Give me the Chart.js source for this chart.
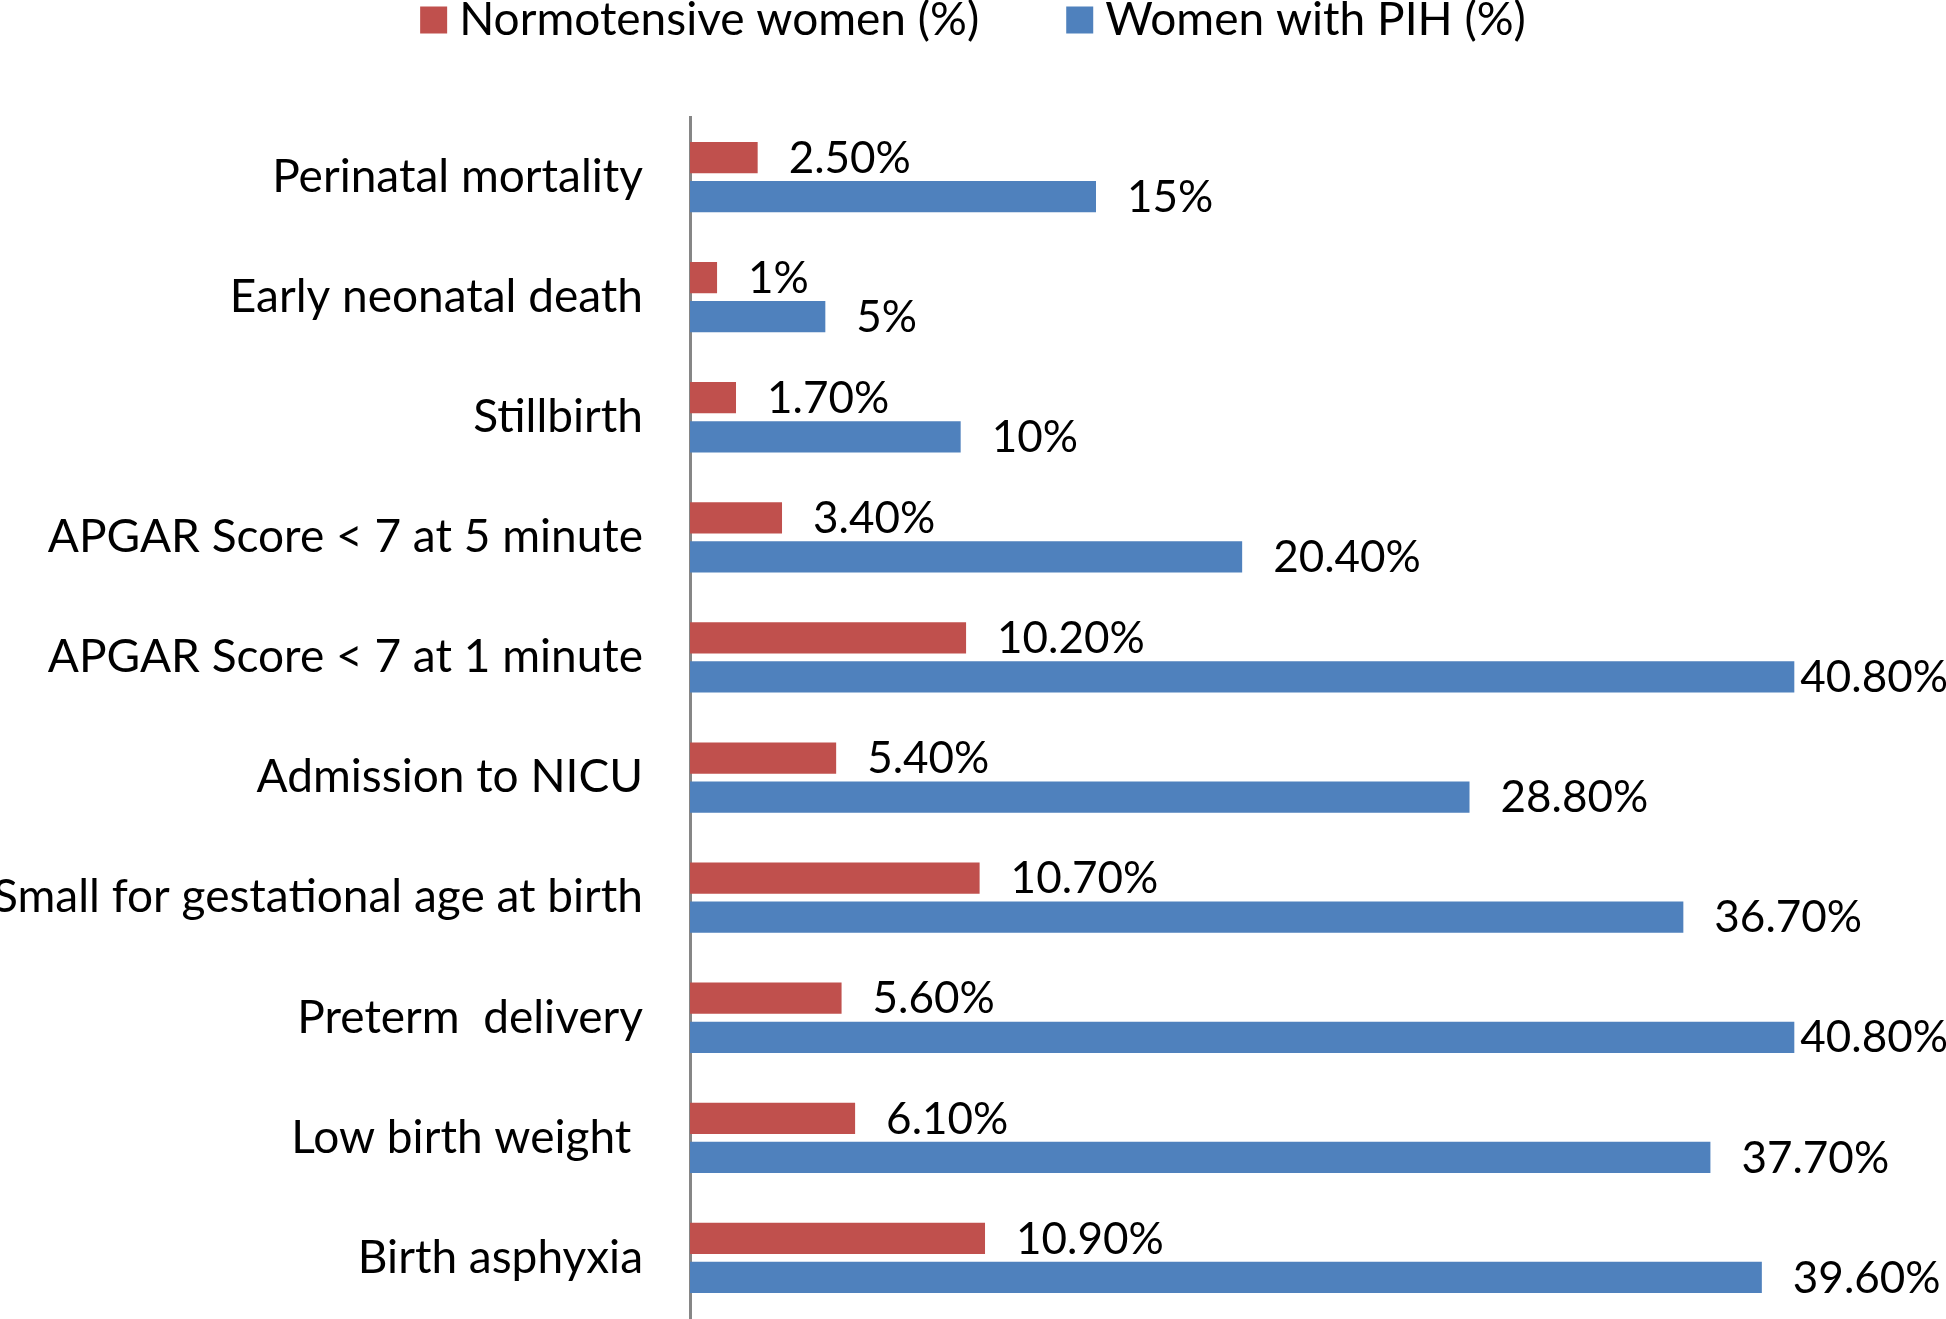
<!DOCTYPE html>
<html>
<head>
<meta charset="utf-8">
<script src="https://cdn.jsdelivr.net/npm/chart.js@4.4.1/dist/chart.umd.min.js"></script>
<style>
  html, body { margin: 0; padding: 0; background: #fff; }
  canvas { display: block; }
</style>
</head>
<body>
<canvas id="grafica" width="1946" height="1319"></canvas>
<script>
// datos
const categorias = [
  'Perinatal mortality',
  'Early neonatal death',
  'Stillbirth',
  'APGAR Score < 7 at 5 minute',
  'APGAR Score < 7 at 1 minute',
  'Admission to NICU',
  'Small for gestational age at birth',
  'Preterm  delivery',
  'Low birth weight ',
  'Birth asphyxia'
];
const normotensas = [2.5, 1, 1.7, 3.4, 10.2, 5.4, 10.7, 5.6, 6.1, 10.9];
const conPIH = [15, 5, 10, 20.4, 40.8, 28.8, 36.7, 40.8, 37.7, 39.6];
const etiquetasNormo = ['2.50%', '1%', '1.70%', '3.40%', '10.20%', '5.40%', '10.70%', '5.60%', '6.10%', '10.90%'];
const etiquetasPIH = ['15%', '5%', '10%', '20.40%', '40.80%', '28.80%', '36.70%', '40.80%', '37.70%', '39.60%'];

const FUENTE = 'Lato, "Open Sans", sans-serif';

// etiquetas de valor al final de cada barra
const etiquetasBarras = {
  id: 'etiquetasBarras',
  afterDatasetsDraw(chart) {
    const ctx = chart.ctx;
    ctx.save();
    ctx.font = `44px ${FUENTE}`;
    ctx.fillStyle = '#000';
    ctx.textBaseline = 'middle';
    ctx.textAlign = 'left';
    chart.data.datasets.forEach((ds, i) => {
      const meta = chart.getDatasetMeta(i);
      meta.data.forEach((bar, j) => {
        const txt = ds.etiquetas[j];
        const w = ctx.measureText(txt).width;
        let x = bar.x + 31;
        if (x + w > chart.width - 2) x = Math.max(bar.x + 6, chart.width - 2 - w);
        ctx.fillText(txt, x, bar.y + 1);
      });
    });
    ctx.restore();
  }
};

// leyenda arriba, dibujada a mano
const leyenda = {
  id: 'leyenda',
  afterDraw(chart) {
    const ctx = chart.ctx;
    ctx.save();
    ctx.font = `46px ${FUENTE}`;
    ctx.textBaseline = 'middle';
    const caja = 27, sep = 12, entre = 87;
    const items = chart.data.datasets.map(ds => ({
      texto: ds.label, color: ds.backgroundColor, w: ctx.measureText(ds.label).width
    }));
    const total = items.reduce((s, it) => s + caja + sep + it.w, 0) + entre * (items.length - 1);
    let x = (chart.width - total) / 2;
    const y = 20;
    items.forEach(it => {
      ctx.fillStyle = it.color;
      ctx.fillRect(x, y - caja / 2, caja, caja);
      x += caja + sep;
      ctx.fillStyle = '#000';
      ctx.fillText(it.texto, x, y);
      x += it.w + entre;
    });
    ctx.restore();
  }
};

new Chart(document.getElementById('grafica').getContext('2d'), {
  type: 'bar',
  data: {
    labels: categorias,
    datasets: [
      {
        label: 'Normotensive women (%)',
        data: normotensas,
        etiquetas: etiquetasNormo,
        backgroundColor: '#C0504D',
        categoryPercentage: 0.65,
        barPercentage: 0.8
      },
      {
        label: 'Women with PIH (%)',
        data: conPIH,
        etiquetas: etiquetasPIH,
        backgroundColor: '#4F81BD',
        categoryPercentage: 0.65,
        barPercentage: 0.8
      }
    ]
  },
  options: {
    indexAxis: 'y',
    responsive: false,
    animation: false,
    devicePixelRatio: 1,
    layout: { padding: { left: 0, right: 38, top: 117, bottom: 1 } },
    plugins: {
      legend: { display: false },
      tooltip: { enabled: false }
    },
    scales: {
      x: {
        display: false,
        min: 0,
        max: 45
      },
      y: {
        grid: { display: false, drawTicks: false },
        border: { display: true, color: '#868686', width: 3 },
        ticks: {
          color: '#000',
          padding: 47,
          font: { family: FUENTE, size: 46 }
        },
        afterFit(scale) {
          scale.width = 690;
          scale.paddingTop = 0;
          scale.paddingBottom = 0;
        }
      }
    }
  },
  plugins: [etiquetasBarras, leyenda]
});
</script>
</body>
</html>
